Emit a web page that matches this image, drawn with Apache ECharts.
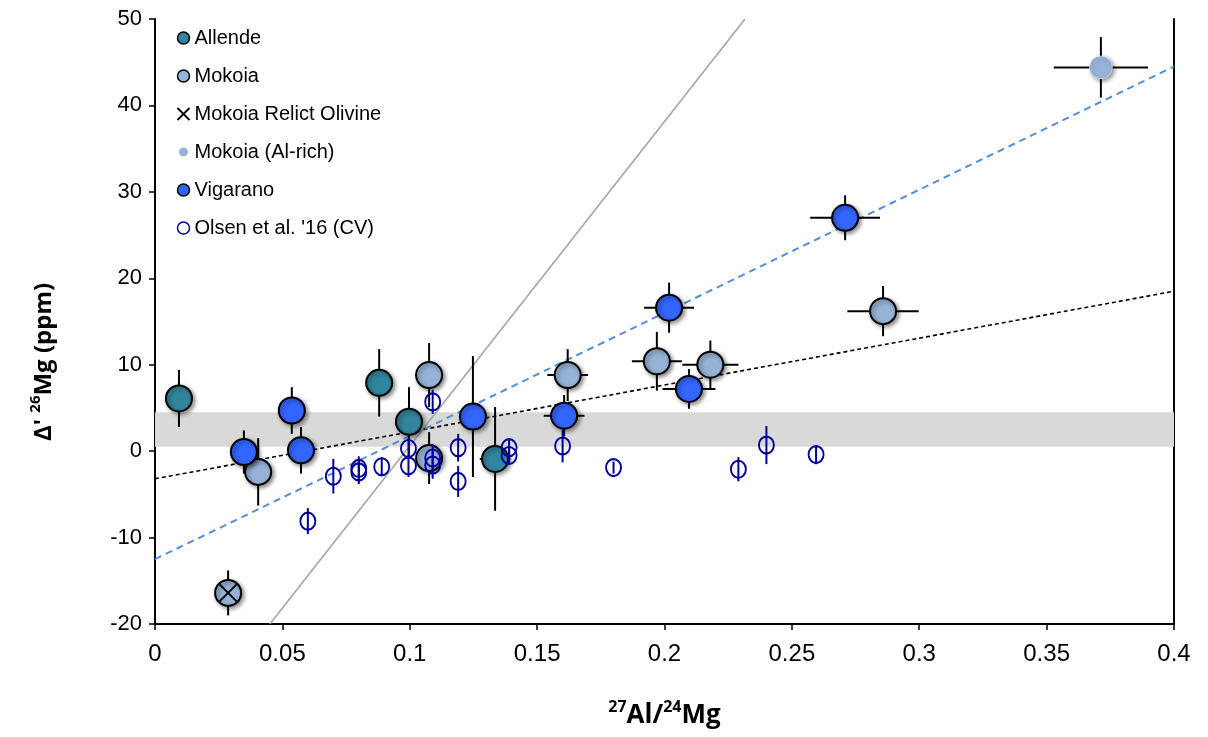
<!DOCTYPE html>
<html>
<head>
<meta charset="utf-8">
<script src="https://cdn.jsdelivr.net/npm/echarts@6/dist/echarts.min.js"></script>
<style>
html,body{margin:0;padding:0;background:#fff;}
#chart{width:1208px;height:737px;}
</style>
</head>
<body>
<div id="chart"></div>
<script>
// Each point: [27Al/24Mg, Δ'26Mg, xErr, yErr]
const allende = [[0.0094, 6.1, 0, 3.3], [0.088, 7.9, 0, 3.9], [0.0997, 3.4, 0, 4.0], [0.1335, -0.9, 0.006, 6.0]];
const mokoia = [[0.0405, -2.4, 0, 3.9], [0.1076, 8.8, 0.0055, 3.7], [0.1076, -0.8, 0, 3.0], [0.162, 8.8, 0.008, 3.0], [0.197, 10.4, 0.0098, 3.4], [0.218, 10.0, 0.011, 2.8], [0.2858, 16.2, 0.014, 2.9]];
const mokoiaRelict = [[0.0287, -16.4, 0, 2.6]];
const mokoiaAlRich = [[0.3713, 44.4, 0.0185, 3.5]];
const vigarano = [[0.0349, -0.1, 0, 2.5], [0.0537, 4.7, 0, 2.7], [0.0573, 0.1, 0, 2.7], [0.1248, 4.0, 0, 7.0], [0.1606, 4.1, 0.008, 2.4], [0.2018, 16.6, 0.0098, 2.9], [0.2096, 7.2, 0.0104, 2.3], [0.2709, 27.0, 0.0137, 2.6]];
const olsen = [[0.06, -8.1, 0, 1.5], [0.07, -2.9, 0, 2.0], [0.08, -2.0, 0, 1.4], [0.08, -2.4, 0, 1.4], [0.089, -1.8, 0, 1.1], [0.0995, 0.3, 0, 1.2], [0.0995, -1.7, 0, 1.3], [0.109, 5.7, 0, 1.4], [0.109, -0.8, 0, 1.6], [0.109, -1.6, 0, 1.6], [0.119, 0.4, 0, 1.6], [0.119, -3.5, 0, 1.8], [0.139, 0.4, 0, 1.0], [0.139, -0.5, 0, 1.0], [0.16, 0.6, 0, 1.9], [0.18, -1.9, 0, 0.7], [0.229, -2.1, 0, 1.4], [0.24, 0.7, 0, 2.2], [0.2595, -0.4, 0, 1.1]];
// Reference lines (endpoints)
const grayLine = [[0.0451, -20], [0.2316, 50]];
const blackFit = [[0, -3.2], [0.4, 18.5]];
const blueFit = [[0, -12.5], [0.4, 44.5]];
// Shaded band (y range)
const band = [0.5, 4.5];
const xTicks = [0, 0.05, 0.1, 0.15, 0.2, 0.25, 0.3, 0.35, 0.4];
const yTicks = [-20, -10, 0, 10, 20, 30, 40, 50];

const FONT = "'Liberation Sans', Arial, sans-serif";
const TFONT = "'Open Sans', 'Liberation Sans', sans-serif";
const shadow = {shadowBlur: 4, shadowOffsetX: 2, shadowOffsetY: 2, shadowColor: 'rgba(0,0,0,0.45)'};

function errSeries(name, data, color, z) {
  return {
    type: 'custom', name: name, z: z, silent: true,
    data: data,
    encode: {x: 0, y: 1},
    renderItem: function (params, api) {
      const x = api.value(0), y = api.value(1), ex = api.value(2), ey = api.value(3);
      const ch = [];
      if (ey > 0) {
        const a = api.coord([x, y - ey]), b = api.coord([x, y + ey]);
        ch.push({type: 'line', shape: {x1: a[0], y1: a[1], x2: b[0], y2: b[1]}, style: {stroke: color, lineWidth: 2}});
      }
      if (ex > 0) {
        const a = api.coord([x - ex, y]), b = api.coord([x + ex, y]);
        ch.push({type: 'line', shape: {x1: a[0], y1: a[1], x2: b[0], y2: b[1]}, style: {stroke: color, lineWidth: 2}});
      }
      return {type: 'group', children: ch};
    }
  };
}

const chart = echarts.init(document.getElementById('chart'), null, {renderer: 'canvas'});
chart.setOption({
  animation: false,
  backgroundColor: '#fff',
  grid: {left: 155, right: 34, top: 19, bottom: 113, outerBoundsMode: 'none'},
  legend: {
    orient: 'vertical', left: 176, top: 28, padding: 0,
    itemWidth: 12, itemHeight: 12, itemGap: 18,
    textStyle: {fontFamily: FONT, fontSize: 20, color: '#000', lineHeight: 20},
    itemStyle: {shadowBlur: 0, shadowOffsetX: 0, shadowOffsetY: 0, shadowColor: 'rgba(0,0,0,0)', borderWidth: 1.5},
    data: [
      {name: 'Allende', icon: 'circle'},
      {name: 'Mokoia', icon: 'circle'},
      {name: 'Mokoia Relict Olivine', icon: 'path://M0,0L10,10M10,0L0,10', itemStyle: {color: 'rgba(0,0,0,0)', borderColor: '#000', borderWidth: 1.8}},
      {name: 'Mokoia (Al-rich)', icon: 'circle', itemStyle: {borderColor: '#fff', borderWidth: 3}},
      {name: 'Vigarano', icon: 'circle'},
      {name: "Olsen et al. '16 (CV)", icon: 'circle'}
    ]
  },
  xAxis: {
    type: 'value', min: xTicks[0], max: xTicks[xTicks.length - 1], interval: 0.05,
    axisLine: {onZero: false, lineStyle: {color: '#000', width: 2}},
    axisTick: {show: true, inside: false, length: 6, lineStyle: {color: '#000', width: 1.5}},
    splitLine: {show: false},
    axisLabel: {fontFamily: FONT, fontSize: 24, color: '#000', margin: 18,
      formatter: v => String(+v.toFixed(2))},
    name: '{s|27}{b|Al/}{s|24}{b|Mg}',
    nameLocation: 'middle', nameGap: 75,
    nameTextStyle: {rich: {
      b: {fontFamily: TFONT, fontWeight: 'bold', fontSize: 26, color: '#000', lineHeight: 30, verticalAlign: 'bottom'},
      s: {fontFamily: TFONT, fontWeight: 'bold', fontSize: 16, color: '#000', verticalAlign: 'top', lineHeight: 30}
    }}
  },
  yAxis: [{
    type: 'value', min: yTicks[0], max: yTicks[yTicks.length - 1], interval: 10,
    axisLine: {show: true, onZero: false, lineStyle: {color: '#000', width: 2}},
    axisTick: {show: true, inside: false, length: 6, lineStyle: {color: '#000', width: 1.5}},
    splitLine: {show: false},
    axisLabel: {fontFamily: FONT, fontSize: 22, color: '#000', margin: 13}
  }, {
    type: 'value', position: 'right', min: yTicks[0], max: yTicks[yTicks.length - 1], interval: 10,
    axisLine: {show: true, onZero: false, lineStyle: {color: '#000', width: 2}},
    axisTick: {show: false}, axisLabel: {show: false}, splitLine: {show: false}
  }],
  graphic: [{
    type: 'text', x: 42, y: 362, rotation: Math.PI / 2,
    style: {
      text: "{b|Δ' }{s|26}{b|Mg (ppm)}",
      align: 'center', verticalAlign: 'middle',
      rich: {
        b: {fontFamily: TFONT, fontWeight: 'bold', fontSize: 24, fill: '#000', lineHeight: 28, verticalAlign: 'bottom'},
        s: {fontFamily: TFONT, fontWeight: 'bold', fontSize: 15, fill: '#000', verticalAlign: 'top', lineHeight: 28}
      }
    }
  }],
  series: [
    {
      type: 'line', name: 'band', data: [], z: 1, silent: true,
      markArea: {silent: true, itemStyle: {color: '#D9D9D9'}, data: [[{yAxis: band[0]}, {yAxis: band[1]}]]}
    },
    {type: 'line', name: 'gray', data: grayLine, z: 2, symbol: 'none', silent: true, lineStyle: {color: '#A6A6A6', width: 1.6}},
    {type: 'line', name: 'blackFit', data: blackFit, z: 2, symbol: 'none', silent: true, lineStyle: {color: '#000', width: 1.6, type: [4, 3]}},
    {type: 'line', name: 'blueFit', data: blueFit, z: 2, symbol: 'none', silent: true, lineStyle: {color: '#558ED5', width: 2, type: [7, 5]}},
    errSeries('errA', allende, '#000', 3),
    errSeries('errM', mokoia, '#000', 3),
    errSeries('errR', mokoiaRelict, '#000', 3),
    errSeries('errAl', mokoiaAlRich, '#000', 3),
    errSeries('errV', vigarano, '#000', 3),
    {type: 'scatter', name: 'Allende', data: allende, z: 4, symbol: 'circle', symbolSize: 26,
      itemStyle: Object.assign({color: '#31859C', borderColor: '#000', borderWidth: 2, opacity: 1}, shadow)},
    {type: 'scatter', name: 'Mokoia', data: mokoia, z: 4, symbol: 'circle', symbolSize: 26,
      itemStyle: Object.assign({color: '#95B3D7', borderColor: '#000', borderWidth: 2, opacity: 1}, shadow)},
    {type: 'scatter', name: 'Mokoia Relict Olivine', data: mokoiaRelict, z: 4, symbol: 'circle', symbolSize: 26,
      itemStyle: Object.assign({color: '#95B3D7', borderColor: '#000', borderWidth: 2, opacity: 1}, shadow)},
    {type: 'scatter', name: 'relictX', data: mokoiaRelict, z: 5, symbol: 'path://M0,0L10,10M10,0L0,10', symbolSize: 17,
      itemStyle: {color: 'rgba(0,0,0,0)', borderColor: '#000', borderWidth: 2, opacity: 1}},
    {type: 'scatter', name: 'Mokoia (Al-rich)', data: mokoiaAlRich, z: 4, symbol: 'circle', symbolSize: 23,
      itemStyle: Object.assign({color: '#95B3D7', borderColor: '#fff', borderWidth: 0.5, opacity: 1}, shadow)},
    {type: 'scatter', name: 'Vigarano', data: vigarano, z: 4, symbol: 'circle', symbolSize: 26,
      itemStyle: Object.assign({color: '#3366FF', borderColor: '#000', borderWidth: 2, opacity: 1}, shadow)},
    errSeries('errO', olsen, '#000099', 6),
    {type: 'scatter', name: "Olsen et al. '16 (CV)", data: olsen, z: 7, symbol: 'circle', symbolSize: [15, 17],
      itemStyle: {color: 'rgba(255,255,255,0)', borderColor: '#000099', borderWidth: 2, opacity: 1}}
  ]
});
</script>
</body>
</html>
